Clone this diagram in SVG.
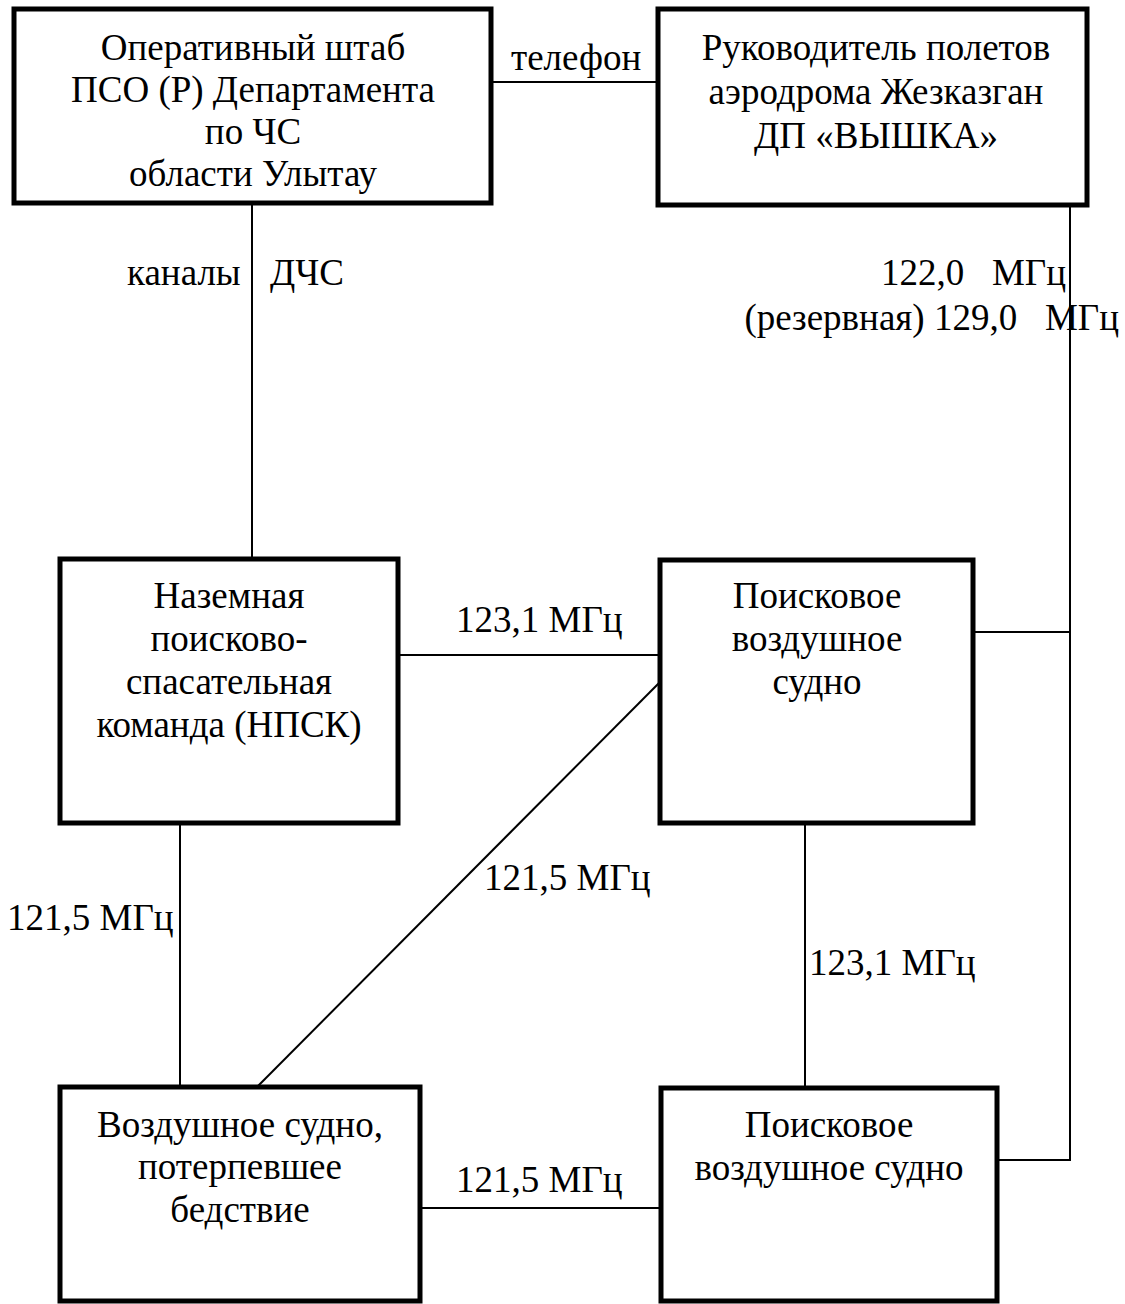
<svg xmlns="http://www.w3.org/2000/svg" width="1125" height="1304" viewBox="0 0 1125 1304">
<style>
.box{fill:#fff;stroke:#000;stroke-width:5}
.ln{stroke:#000;stroke-width:2;fill:none}
text{font-family:"Liberation Serif","Times New Roman",serif;font-size:37px;fill:#000;white-space:pre}
.c{text-anchor:middle}
.e{text-anchor:end}
</style>
<rect width="1125" height="1304" fill="#fff"/>
<g id="connectors">
<line class="ln" x1="491" y1="82" x2="658" y2="82"/>
<line class="ln" x1="252" y1="203" x2="252" y2="559"/>
<polyline class="ln" points="1070,205 1070,1160 997,1160"/>
<line class="ln" x1="973" y1="632" x2="1070" y2="632"/>
<line class="ln" x1="398" y1="655" x2="660" y2="655"/>
<line class="ln" x1="660" y1="682" x2="257" y2="1087"/>
<line class="ln" x1="180" y1="823" x2="180" y2="1087"/>
<line class="ln" x1="805" y1="823" x2="805" y2="1088"/>
<line class="ln" x1="420" y1="1208" x2="661" y2="1208"/>
<text x="511" y="70">телефон</text>
<text x="127" y="285">каналы</text>
<text x="270" y="285">ДЧС</text>
<text class="e" x="1066" y="285" xml:space="preserve">122,0   МГц</text>
<text class="e" x="1119" y="330" xml:space="preserve">(резервная) 129,0   МГц</text>
<text x="456" y="632">123,1 МГц</text>
<text x="484" y="890">121,5 МГц</text>
<text x="7" y="930">121,5 МГц</text>
<text x="809" y="975">123,1 МГц</text>
<text x="456" y="1192">121,5 МГц</text>
</g>
<g id="n1">
<rect class="box" x="14" y="9" width="477" height="194"/>
<text class="c" x="253" y="60">Оперативный штаб</text>
<text class="c" x="253" y="102">ПСО (Р) Департамента</text>
<text class="c" x="253" y="144">по ЧС</text>
<text class="c" x="253" y="186">области Улытау</text>
</g>
<g id="n2">
<rect class="box" x="658" y="9" width="429" height="196"/>
<text class="c" x="876" y="60">Руководитель полетов</text>
<text class="c" x="876" y="104">аэродрома Жезказган</text>
<text class="c" x="876" y="148">ДП «ВЫШКА»</text>
</g>
<g id="n3">
<rect class="box" x="60" y="559" width="338" height="264"/>
<text class="c" x="229" y="608">Наземная</text>
<text class="c" x="229" y="651">поисково-</text>
<text class="c" x="229" y="694">спасательная</text>
<text class="c" x="229" y="737">команда (НПСК)</text>
</g>
<g id="n4">
<rect class="box" x="660" y="560" width="313" height="263"/>
<text class="c" x="817" y="608">Поисковое</text>
<text class="c" x="817" y="651">воздушное</text>
<text class="c" x="817" y="694">судно</text>
</g>
<g id="n5">
<rect class="box" x="60" y="1087" width="360" height="214"/>
<text class="c" x="240" y="1137">Воздушное судно,</text>
<text class="c" x="240" y="1179">потерпевшее</text>
<text class="c" x="240" y="1222">бедствие</text>
</g>
<g id="n6">
<rect class="box" x="661" y="1088" width="336" height="213"/>
<text class="c" x="829" y="1137">Поисковое</text>
<text class="c" x="829" y="1180">воздушное судно</text>
</g>
</svg>
